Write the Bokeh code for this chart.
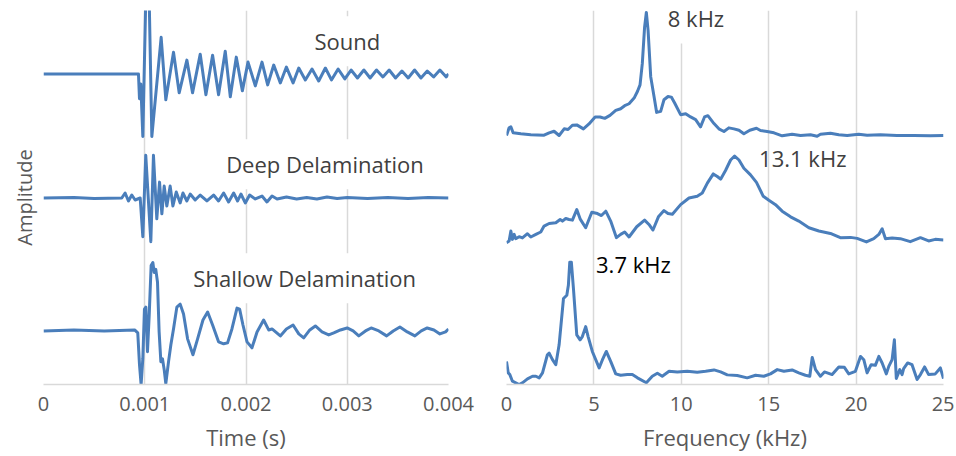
from bokeh.plotting import figure
from bokeh.models import Range1d, FixedTicker, Label, ColumnDataSource
from bokeh.layouts import row
from bokeh.embed import file_html
from bokeh.resources import INLINE

# ---------------- time-domain data (time in ms, amplitude in arbitrary units) -------------
sound_t_ms = [0, 0.938, 0.948, 0.961, 0.981, 1.010, 1.044, 1.070, 1.162, 1.208, 1.284, 1.340,
              1.416, 1.472, 1.548, 1.604, 1.670, 1.729, 1.795, 1.845, 1.904, 1.964, 2.020,
              2.092, 2.158, 2.214, 2.274, 2.339, 2.399, 2.465, 2.521, 2.586, 2.652, 2.718,
              2.784, 2.844, 2.910, 2.976, 3.038, 3.101, 3.164, 3.226, 3.289, 3.352, 3.414,
              3.477, 3.540, 3.602, 3.665, 3.728, 3.790, 3.853, 3.915, 3.978, 4.0]
sound_amp = [0, 0, -25, -10, -63, 75, 75, -63, 37, -26, 22, -19,
             14, -19, 20, -21, 19, -21, 23, -23, 17, -17, 12,
             -12, 12, -11, 9, -9, 7, -9, 6, -6, 5, -7,
             6, -6, 5, -5, 4, -4, 4, -4, 4, -3, 4,
             -4, 3, -4, 4, -4, 3, -3, 4, -3, 0]

deep_t_ms = [0, 0.30, 0.50, 0.773, 0.806, 0.839, 0.872, 0.905, 0.955, 0.981, 1.010, 1.060,
             1.086, 1.119, 1.146, 1.169, 1.192, 1.218, 1.251, 1.278, 1.311, 1.350, 1.377,
             1.416, 1.449, 1.498, 1.548, 1.614, 1.680, 1.729, 1.779, 1.828, 1.878, 1.917,
             1.950, 1.993, 2.036, 2.092, 2.158, 2.207, 2.257, 2.307, 2.4, 2.5, 2.6, 2.7,
             2.8, 2.9, 3.0, 3.2, 3.4, 3.6, 3.8, 4.0]
deep_amp = [0, 0.5, -0.5, 0, 5, -3, 3, -2, 0, -39, 43, -44,
            43, -21, 16, -16, 12, -8, 12, -8, 6, -5, 5,
            -3, 4, -2, 3, -3, 3, -3, 5, -4, 5, -3,
            4, -5, 3, -1, 2, -4, 2, -1, 1, -1, 0.5, -1,
            1, -0.5, 0.5, -0.5, 0.5, -0.5, 0.5, 0]

shallow_t_ms = [0, 0.3, 0.6, 0.9, 0.931, 0.948, 0.964, 0.981, 0.997, 1.011, 1.027, 1.044,
                1.063, 1.080, 1.093, 1.109, 1.126, 1.142, 1.159, 1.175, 1.192, 1.208, 1.235,
                1.258, 1.284, 1.317, 1.350, 1.383, 1.423, 1.476, 1.522, 1.575, 1.621, 1.670,
                1.729, 1.779, 1.818, 1.861, 1.911, 1.937, 1.970, 2.010, 2.059, 2.109, 2.174,
                2.224, 2.257, 2.339, 2.399, 2.465, 2.521, 2.570, 2.630, 2.685, 2.751, 2.817,
                2.867, 2.933, 2.999, 3.058, 3.114, 3.180, 3.236, 3.312, 3.389, 3.454, 3.520,
                3.593, 3.668, 3.731, 3.790, 3.856, 3.915, 3.971, 4.0]
shallow_amp = [0, 1, 0, 1, -2, -34, -54, -28, 22, 24, -21, 16,
               66, 69, 59, 62, 49, -1, -31, -28, -39, -53, -31,
               -14, 2, 24, 27, 17, -8, -24, -8, 11, 19, 6,
               -11, -13, -12, 2, 23, 22, 6, -11, -17, -1, 11,
               1, 2, -5, 2, 6, -3, -7, 1, 5, -1, -4,
               -2, 1, 3, 0, -5, 0, 3, 0, -5, 0, 4,
               -1, -5, 0, 3, 1, -3, -1, 2]

time_ticks = [0, 0.001, 0.002, 0.003, 0.004]
time_tick_labels = ["0", "0.001", "0.002", "0.003", "0.004"]

# ---------------- frequency-domain data (kHz, magnitude in arbitrary units) ---------------
sound_f = [0, 0.15, 0.25, 0.38, 0.82, 1.39, 2.15, 2.44, 2.72, 3.01, 3.30, 3.52, 3.77, 4.02,
           4.40, 4.72, 5.07, 5.35, 5.62, 5.92, 6.25, 6.53, 6.76, 7.01, 7.30, 7.49, 7.64,
           7.77, 7.90, 8.00, 8.10, 8.25, 8.44, 8.59, 8.82, 9.01, 9.24, 9.43, 9.62, 9.96,
           10.25, 10.53, 10.82, 11.10, 11.33, 11.52, 11.87, 12.15, 12.44, 12.72, 13.01,
           13.30, 13.58, 13.92, 14.30, 14.53, 14.91, 15.30, 15.77, 16.34, 16.82, 17.39,
           17.77, 17.96, 18.53, 19.01, 19.49, 20.15, 20.63, 21.39, 22.34, 23.30, 24.25, 25.0]
sound_mag = [0, 7.7, 8.7, 2.7, 1.7, 0.7, 0.3, 2.7, 4.3, 0, 6.7, 6, 10.3, 10.7,
             6.7, 11.7, 18.7, 18.7, 17.3, 20.3, 25.3, 27, 30, 32, 37.7, 44.3, 51,
             72.7, 109.3, 124, 106, 59.3, 39.3, 23.3, 24.3, 36, 39.3, 38.7, 32.7, 21,
             22, 18.7, 16, 8.7, 18.7, 20, 12, 6.7, 4, 7.7, 6.7,
             5.3, 1.7, 5.3, 7.3, 5, 4, 2.7, -0.3, 1.3, 0, 0.7,
             -0.7, 1.3, 2.3, 0.7, 0, 1.3, 0.3, 0.7, 0, 0, -0.3, 0]

deep_f = [0, 0.15, 0.25, 0.34, 0.44, 0.53, 0.72, 0.91, 1.20, 1.39, 1.68, 1.96, 2.15, 2.44,
          2.82, 3.07, 3.20, 3.39, 3.58, 3.77, 4.02, 4.21, 4.53, 4.88, 5.20, 5.43, 5.68,
          5.96, 6.29, 6.53, 6.76, 7.01, 7.45, 7.90, 8.15, 8.38, 8.69, 9.01, 9.24, 9.49,
          9.96, 10.44, 10.91, 11.20, 11.49, 11.83, 12.06, 12.25, 12.53, 12.82, 13.05,
          13.30, 13.58, 13.96, 14.30, 14.69, 15.01, 15.39, 15.77, 16.25, 16.72, 17.30,
          17.87, 18.53, 19.10, 19.68, 20.06, 20.59, 21.01, 21.30, 21.49, 21.68, 22.06,
          22.53, 23.10, 23.68, 24.15, 24.53, 25.0]
deep_mag = [0, 1.7, 11.7, 3.3, 8.3, 4, 6, 4.7, 9, 5.7, 8.3, 10.7, 16.7, 19.3,
            20, 23.3, 21.7, 24.3, 23.3, 22.7, 33.3, 24, 15, 30.7, 29.3, 27.3, 31.7,
            21.7, 5, 8.3, 10.7, 5.7, 16, 22.7, 18.3, 12.7, 26, 32.3, 29.3, 28.7,
            38.3, 45, 46.7, 50, 60, 69.3, 66.7, 64, 72.7, 83.3, 87.3,
            83.3, 75, 68.3, 60.7, 46.7, 42.7, 38.3, 31.7, 26, 21.7, 15,
            11.7, 9.3, 5, 5.3, 4.3, 0.7, 4, 8.3, 14, 4, 4.7,
            4, 1, 5, 1.7, 3.3, 2.7]

shallow_f = [0, 0.10, 0.19, 0.34, 0.53, 0.72, 0.91, 1.20, 1.49, 1.68, 1.87, 2.06, 2.34,
             2.44, 2.63, 2.82, 3.01, 3.26, 3.45, 3.54, 3.62, 3.71, 3.83, 4.02, 4.21, 4.34,
             4.53, 4.67, 4.91, 5.30, 5.49, 5.71, 5.96, 6.25, 6.53, 6.91, 7.20, 7.49, 8.00,
             8.34, 8.63, 8.91, 9.30, 9.77, 10.34, 10.91, 11.39, 11.87, 12.25, 12.63, 13.20,
             13.77, 14.25, 14.72, 15.10, 15.49, 15.87, 16.34, 16.72, 17.10, 17.35, 17.49,
             17.68, 17.96, 18.19, 18.63, 19.01, 19.33, 19.58, 19.96, 20.25, 20.44, 20.63,
             20.86, 21.10, 21.30, 21.49, 21.73, 21.87, 22.06, 22.19, 22.30, 22.50, 22.63,
             22.72, 22.95, 23.20, 23.49, 23.68, 23.92, 24.15, 24.53, 24.82, 25.0]
shallow_mag = [23.3, 11.7, 10, 3.3, 1.7, 0, 1.7, 5.7, 8.3, 8.3, 6.7, 11.7, 30,
               31.7, 25, 20, 40, 86.7, 90, 100, 123.3, 123.3, 96.7, 50, 45, 48.3,
               58.3, 48.3, 33.3, 16.7, 25, 33.3, 23.3, 10.7, 9.3, 10, 10, 6.7, 1.7,
               8.3, 11.3, 8.3, 13.3, 12.7, 13.3, 12.3, 13.3, 14.7, 12.7, 9.7, 9,
               6.7, 9.3, 8.3, 10.7, 15, 13.3, 14.7, 11.7, 9.3, 8.3, 27.3,
               15, 8.3, 12.7, 10, 17.7, 17.3, 10.7, 13.3, 28.3, 25, 11.7,
               20, 19.3, 28.3, 21.7, 10.7, 18.3, 25, 45, 6, 15, 10,
               16, 21.7, 20, 5, 10, 17.7, 10, 10.7, 16.7, 6]

freq_ticks = [0, 5, 10, 15, 20, 25]

# ---------------- styling / layout constants ----------------
FONT = "Open Sans"
LINE = "#4a7ebb"
GRID = "#d9d9d9"
TICK_COL = "#595959"
LBL_COL = "#404040"
TIME_OFFSETS = {"sound": 313, "deep": 188, "shallow": 54}
FREQ_OFFSETS = {"sound": 251, "deep": 143, "shallow": 0}
Y_MAX = 377


def style(p):
    p.outline_line_color = None
    p.xgrid.grid_line_color = GRID
    p.xgrid.grid_line_width = 1.5
    p.ygrid.grid_line_color = None
    p.xaxis.axis_line_color = GRID
    p.xaxis.axis_line_width = 1.5
    p.xaxis.major_tick_line_color = None
    p.xaxis.minor_tick_line_color = None
    p.xaxis.major_label_standoff = 6
    p.xaxis.major_label_text_font = FONT
    p.xaxis.major_label_text_font_size = "20px"
    p.xaxis.major_label_text_color = TICK_COL
    p.xaxis.axis_label_text_font = FONT
    p.xaxis.axis_label_text_font_size = "22px"
    p.xaxis.axis_label_text_font_style = "normal"
    p.xaxis.axis_label_text_color = TICK_COL
    p.xaxis.axis_label_standoff = 8


# ---------------- left: time domain ----------------
p1 = figure(width=483, height=454, output_backend="svg", toolbar_location=None,
            x_range=Range1d(0, 0.004), y_range=Range1d(0, Y_MAX),
            min_border_left=43, min_border_right=35, min_border_top=10, min_border_bottom=67)
style(p1)
p1.xaxis.ticker = FixedTicker(ticks=time_ticks)
p1.xaxis.major_label_overrides = {t: s for t, s in zip(time_ticks, time_tick_labels)}
p1.xaxis.axis_label = "Time (s)"
p1.yaxis.ticker = FixedTicker(ticks=[])
p1.yaxis.axis_line_color = None
p1.yaxis.major_tick_line_color = None
p1.yaxis.minor_tick_line_color = None
p1.yaxis.axis_label = "Amplitude"
p1.yaxis.axis_label_text_font = FONT
p1.yaxis.axis_label_text_font_size = "20px"
p1.yaxis.axis_label_text_font_style = "normal"
p1.yaxis.axis_label_text_color = TICK_COL
p1.yaxis.axis_label_standoff = 6

for name, tt, aa in [("sound", sound_t_ms, sound_amp), ("deep", deep_t_ms, deep_amp),
                     ("shallow", shallow_t_ms, shallow_amp)]:
    src = ColumnDataSource(dict(t=[v * 1e-3 for v in tt], y=[a + TIME_OFFSETS[name] for a in aa]))
    p1.line("t", "y", source=src, line_color=LINE, line_width=3, line_join="round")

for txt, x, y in [("Sound", 0.0030, 346), ("Deep Delamination", 0.00278, 222),
                  ("Shallow Delamination", 0.00258, 107)]:
    p1.add_layout(Label(x=x, y=y, text=txt, text_align="center", text_baseline="middle",
                        text_font=FONT, text_font_size="22px", text_color=LBL_COL,
                        background_fill_color="white", padding=10))

# ---------------- right: frequency domain ----------------
p2 = figure(width=471, height=454, output_backend="svg", toolbar_location=None,
            x_range=Range1d(0, 25), y_range=Range1d(0, Y_MAX),
            min_border_left=23, min_border_right=11, min_border_top=10, min_border_bottom=67)
style(p2)
p2.xaxis.ticker = FixedTicker(ticks=freq_ticks)
p2.xaxis.axis_label = "Frequency (kHz)"
p2.yaxis.visible = False

for name, ff, mm in [("sound", sound_f, sound_mag), ("deep", deep_f, deep_mag),
                     ("shallow", shallow_f, shallow_mag)]:
    src = ColumnDataSource(dict(f=ff, y=[m + FREQ_OFFSETS[name] for m in mm]))
    p2.line("f", "y", source=src, line_color=LINE, line_width=3, line_join="round")

p2.add_layout(Label(x=10.84, y=369, text="8 kHz", text_align="center", text_baseline="middle",
                    text_font=FONT, text_font_size="22px", text_color=LBL_COL,
                    background_fill_color="white", padding=10))
p2.add_layout(Label(x=16.95, y=228, text="13.1 kHz", text_align="center", text_baseline="middle",
                    text_font=FONT, text_font_size="22px", text_color=LBL_COL))
p2.add_layout(Label(x=7.26, y=121, text="3.7 kHz", text_align="center", text_baseline="middle",
                    text_font=FONT, text_font_size="22px", text_color="#000000"))

layout = row(p1, p2)
open("out.html", "w").write(file_html(layout, INLINE))
